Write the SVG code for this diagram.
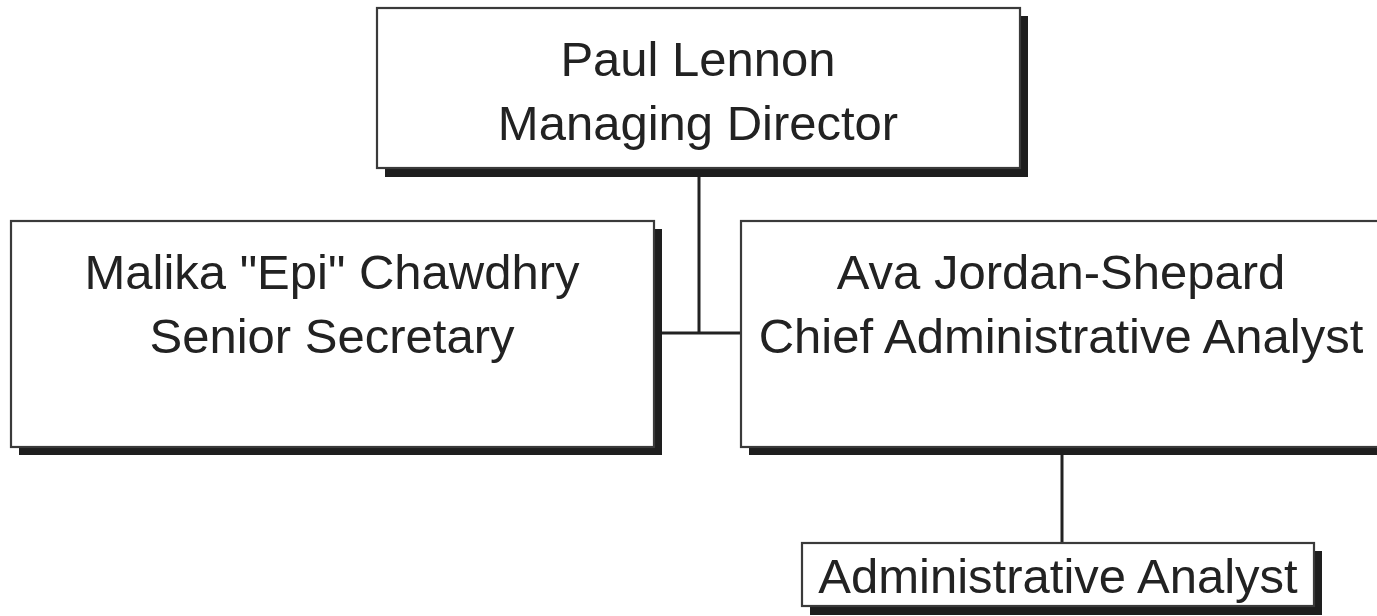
<svg xmlns="http://www.w3.org/2000/svg" width="1377" height="616" viewBox="0 0 1377 616">
<style>
.box{fill:#fff;stroke:#3a3a3a;stroke-width:2.2}
.sh{fill:#1e1e1e}
.t{font-family:"Liberation Sans",Arial,sans-serif;font-size:49px;fill:#222;text-anchor:middle}
.c{stroke:#222;stroke-width:3;fill:none}
</style>
<rect width="1377" height="616" fill="#fff"/>
<g id="connectors">
<path class="c" d="M699 176V333M661 333H740M1062 455V543"/>
</g>
<g id="node-paul">
<rect class="sh" x="385" y="16" width="643" height="161"/>
<rect class="box" x="377" y="8" width="643" height="160"/>
<text class="t" x="698" y="76">Paul Lennon</text>
<text class="t" x="698" y="140">Managing Director</text>
</g>
<g id="node-malika">
<rect class="sh" x="19" y="229" width="643" height="226"/>
<rect class="box" x="11" y="221" width="643" height="226"/>
<text class="t" x="332" y="289">Malika "Epi" Chawdhry</text>
<text class="t" x="332" y="353">Senior Secretary</text>
</g>
<g id="node-ava">
<rect class="sh" x="749" y="229" width="643" height="226"/>
<rect class="box" x="741" y="221" width="643" height="226"/>
<text class="t" x="1061" y="289">Ava Jordan-Shepard</text>
<text class="t" x="1061" y="353">Chief Administrative Analyst</text>
</g>
<g id="node-admin">
<rect class="sh" x="810" y="551" width="512" height="64"/>
<rect class="box" x="802" y="543" width="512" height="63"/>
<text class="t" x="1058" y="593">Administrative Analyst</text>
</g>
</svg>
